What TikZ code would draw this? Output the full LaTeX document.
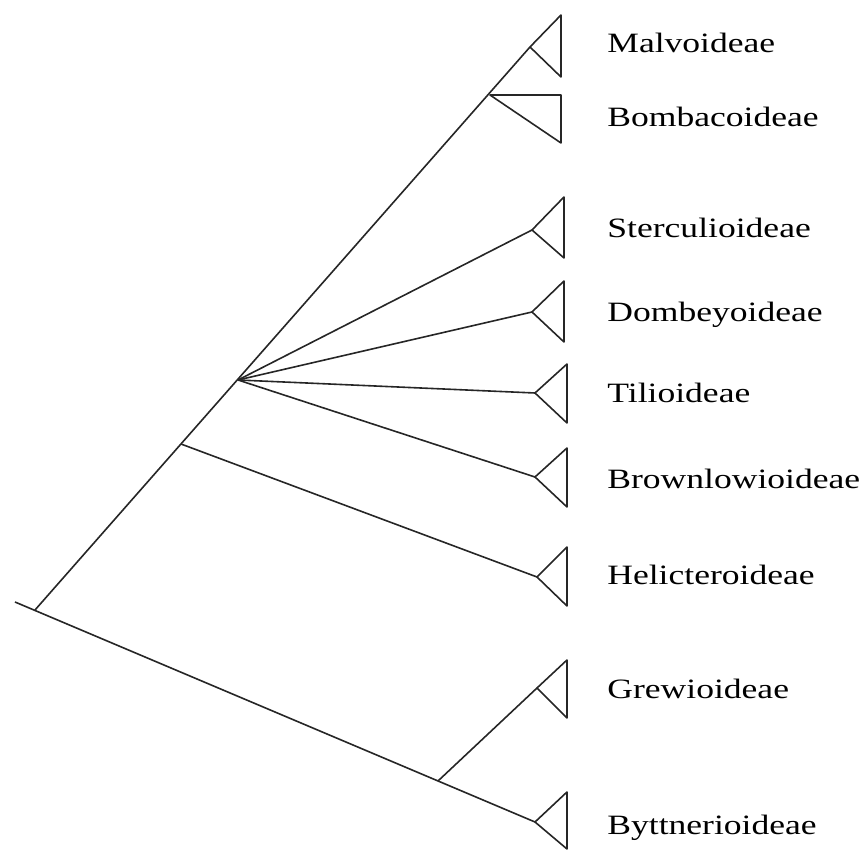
\documentclass[tikz,border=0pt]{standalone}
\usepackage{fontspec}
\setmainfont{Liberation Serif}[FakeStretch=1.27]
\begin{document}
\begin{tikzpicture}[x=0.5pt,y=-0.5pt,
  branch/.style={draw=black!85,line width=0.8pt,line join=round},
  taxon/.style={anchor=base west,inner sep=0pt,font=\fontsize{14}{16}\selectfont}]
\useasboundingbox (0,0) rectangle (864,850);
% branch points
\coordinate (start) at (15,602);
\coordinate (root) at (35,610);
\coordinate (nHel) at (181,444);
\coordinate (nPoly) at (238,380);
\coordinate (nBomb) at (490,95);
\coordinate (nGrew) at (438,781);
% clade apexes
\coordinate (aMal) at (530,47);
\coordinate (aSter) at (532,230);
\coordinate (aDomb) at (532,312);
\coordinate (aTil) at (535,393);
\coordinate (aBrown) at (535,477);
\coordinate (aHel) at (537,577);
\coordinate (aGrew) at (537,688);
\coordinate (aByt) at (535,822);
% branches
\draw[branch] (start) -- (aByt);
\draw[branch] (root) -- (aMal);
\draw[branch] (nGrew) -- (aGrew);
\draw[branch] (nHel) -- (aHel);
\draw[branch] (nPoly) -- (aSter);
\draw[branch] (nPoly) -- (aDomb);
\draw[branch] (nPoly) -- (aTil);
\draw[branch] (nPoly) -- (aBrown);
% clade triangles
\draw[branch] (aMal) -- (561,15) -- (561,77) -- cycle;
\draw[branch] (nBomb) -- (561,95) -- (561,143) -- cycle;
\draw[branch] (aSter) -- (564,197) -- (564,258) -- cycle;
\draw[branch] (aDomb) -- (564,281) -- (564,342) -- cycle;
\draw[branch] (aTil) -- (567,364) -- (567,423) -- cycle;
\draw[branch] (aBrown) -- (567,448) -- (567,507) -- cycle;
\draw[branch] (aHel) -- (567,547) -- (567,606) -- cycle;
\draw[branch] (aGrew) -- (567,660) -- (567,718) -- cycle;
\draw[branch] (aByt) -- (567,792) -- (567,849) -- cycle;
% labels
\node[taxon] (lMal) at (607,53) {Malvoideae};
\node[taxon] (lBomb) at (607,127) {Bombacoideae};
\node[taxon] (lSter) at (607,238) {Sterculioideae};
\node[taxon] (lDomb) at (607,322) {Dombeyoideae};
\node[taxon] (lTil) at (607,403) {Tilioideae};
\node[taxon] (lBrown) at (607,489) {Brownlowioideae};
\node[taxon] (lHel) at (607,585) {Helicteroideae};
\node[taxon] (lGrew) at (607,699) {Grewioideae};
\node[taxon] (lByt) at (607,835) {Byttnerioideae};
\end{tikzpicture}
\end{document}
